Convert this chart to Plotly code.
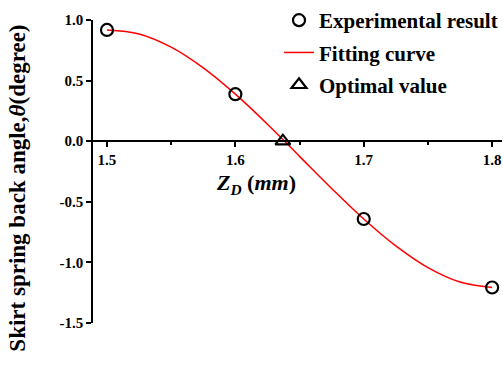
import plotly.graph_objects as go

# Data
exp_x = [1.5, 1.6, 1.7, 1.8]
exp_y = [0.918, 0.388, -0.642, -1.207]

fit_x = [1.5, 1.525, 1.55, 1.575, 1.6, 1.625, 1.65, 1.675, 1.7, 1.725, 1.75, 1.775, 1.8]
fit_y = [0.918, 0.885, 0.776, 0.605, 0.388, 0.140, -0.125, -0.390, -0.642, -0.864, -1.043, -1.162, -1.207]

opt_x = [1.637]
opt_y = [0.0]

x_ticks = [1.5, 1.6, 1.7, 1.8]
y_ticks = [-1.5, -1.0, -0.5, 0.0, 0.5, 1.0]
y_ticklabels = ["-1.5", "-1.0", "-0.5", "0.0", "0.5", "1.0"]

FONT = "Liberation Serif"

fig = go.Figure()
fig.add_trace(go.Scatter(
    x=fit_x, y=fit_y, mode="lines", name="<b>Fitting curve</b>",
    line=dict(color="#ff0000", width=1.5, shape="spline"),
    legendgroup="b", legendrank=2,
))
fig.add_trace(go.Scatter(
    x=exp_x, y=exp_y, mode="markers", name="<b>Experimental result</b>",
    marker=dict(symbol="circle-open", size=12, color="black", line=dict(width=2.2, color="black")),
    legendgroup="a", legendrank=1,
))
fig.add_trace(go.Scatter(
    x=opt_x, y=opt_y, mode="markers", name="<b>Optimal value</b>",
    marker=dict(symbol="triangle-up-open", size=13, color="black", line=dict(width=2.2, color="black")),
    legendgroup="c", legendrank=3,
))

fig.update_layout(
    width=503, height=367,
    margin=dict(l=93, r=0, t=19, b=44),
    plot_bgcolor="white", paper_bgcolor="white",
    font=dict(family=FONT, color="black", size=14),
    showlegend=True,
    legend=dict(
        x=0.455, y=1.065, xanchor="left", yanchor="top",
        font=dict(family=FONT, size=21, color="black"),
        traceorder="grouped", tracegroupgap=2,
        bgcolor="rgba(0,0,0,0)", itemwidth=30,
    ),
    xaxis=dict(
        range=[1.4891, 1.8077], anchor="free", position=0.6,
        tickmode="array", tickvals=x_ticks, ticktext=[f"<b>{v:.1f}</b>" for v in x_ticks],
        ticks="outside", ticklen=5, tickwidth=1.5, tickcolor="black",
        minor=dict(ticks="outside", ticklen=3, tickwidth=1.5, tickcolor="black", dtick=0.05, tick0=1.5, showgrid=False),
        showline=True, linecolor="black", linewidth=1.5,
        showgrid=False, zeroline=False,
        tickfont=dict(family=FONT, size=15, color="black"),
    ),
    yaxis=dict(
        range=[-1.5, 1.0],
        tickmode="array", tickvals=y_ticks, ticktext=[f"<b>{t}</b>" for t in y_ticklabels],
        ticks="outside", ticklen=5, tickwidth=1.5, tickcolor="black",
        showline=True, linecolor="black", linewidth=1.5,
        showgrid=False, zeroline=False,
        tickfont=dict(family=FONT, size=15, color="black"),
    ),
)

fig.add_annotation(
    text="<b><i>Z</i></b><sub><b><i>D</i></b></sub><b> (<i>mm</i>)</b>",
    xref="paper", yref="paper", x=(256 - 93) / 410, y=(323 - 184) / 304,
    xanchor="center", yanchor="middle", showarrow=False,
    font=dict(family=FONT, size=22, color="black"),
)
fig.add_annotation(
    text="<b>Skirt spring back angle,<i>θ</i>(degree)</b>",
    xref="paper", yref="paper", x=(17 - 93) / 410, y=(323 - 188) / 304,
    xanchor="center", yanchor="middle", textangle=-90, showarrow=False,
    font=dict(family=FONT, size=23, color="black"),
)

fig.write_html("out.html")
